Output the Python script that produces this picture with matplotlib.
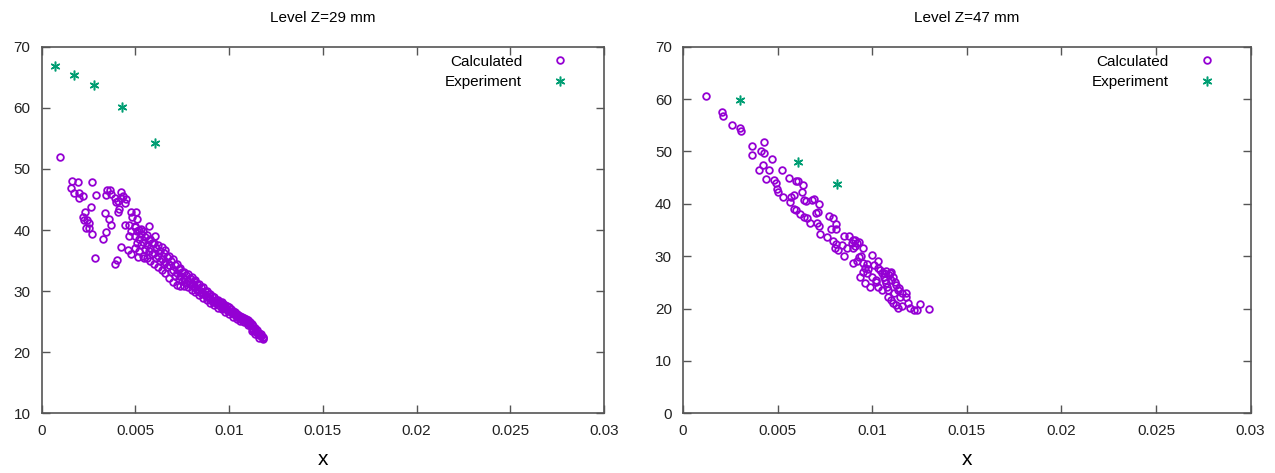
import numpy as np
import matplotlib
matplotlib.use("Agg")
import matplotlib.pyplot as plt
from matplotlib.ticker import FormatStrFormatter, FuncFormatter

plt.rcParams['font.family'] = ['Liberation Sans', 'DejaVu Sans']

# ---- Level Z=29 mm ----
exp29_x = [0.00072, 0.00174, 0.00277, 0.0043, 0.00603]
exp29_y = [66.8, 65.3, 63.8, 60.1, 54.2]

# scattered calculated points above the main band
calc29_x = [0.00097, 0.00163, 0.00195, 0.00157, 0.00174, 0.00199, 0.00222, 0.00201,
            0.00267, 0.00288, 0.00262, 0.00229, 0.0022, 0.00226, 0.00243, 0.0025,
            0.00237, 0.00252, 0.00267, 0.00286, 0.00336, 0.00358, 0.0037, 0.00341,
            0.00326, 0.00349, 0.00362, 0.00345, 0.00372, 0.00391, 0.00398, 0.0041,
            0.00408, 0.00423, 0.00436, 0.00451, 0.00446, 0.00425, 0.00406, 0.00421,
            0.00404, 0.00391, 0.00478, 0.00504, 0.00482, 0.00506, 0.00446, 0.00468,
            0.00499, 0.00531, 0.00573, 0.00607, 0.00468, 0.00476, 0.00459, 0.00476,
            0.00514, 0.00546]
calc29_y = [51.9, 48.1, 47.8, 46.9, 46.0, 46.0, 45.6, 45.3,
            47.8, 45.8, 43.8, 42.9, 42.1, 41.7, 41.7, 41.2,
            40.3, 40.3, 39.4, 35.5, 42.8, 41.8, 40.8, 39.6,
            38.5, 46.6, 46.6, 45.7, 45.9, 45.2, 44.6, 43.4,
            43.0, 46.3, 45.6, 45.0, 44.4, 45.3, 44.8, 37.2,
            35.1, 34.4, 42.9, 43.0, 42.1, 41.8, 40.8, 40.8,
            40.7, 40.2, 40.6, 39.1, 39.1, 39.9, 36.7, 36.0,
            35.6, 35.4]

# dense band: upper / middle / lower edge at each x
band29_x = [0.0050, 0.0052, 0.0054, 0.0056, 0.0058, 0.0060, 0.0062, 0.0064, 0.0066,
            0.0068, 0.0070, 0.0072, 0.0074, 0.0076, 0.0078, 0.0080, 0.0082, 0.0084,
            0.0086, 0.0088, 0.0090, 0.0092, 0.0094, 0.0096, 0.0098, 0.0100, 0.0102,
            0.0104, 0.0106, 0.0108, 0.0110, 0.0112, 0.0114, 0.0116, 0.0118]
band29_up = [40.5, 40.0, 39.8, 39.2, 38.5, 37.8, 37.5, 37.2, 36.8,
             35.8, 35.2, 34.5, 33.8, 33.2, 32.8, 32.3, 31.8, 31.2,
             30.6, 30.0, 29.6, 29.0, 28.6, 28.2, 27.8, 27.4, 26.8,
             26.3, 25.9, 25.6, 25.2, 24.6, 24.0, 23.2, 22.5]
band29_mid = [39.0, 38.5, 38.0, 37.5, 37.0, 36.3, 35.8, 35.3, 34.8,
              34.2, 33.5, 33.0, 32.4, 32.0, 31.6, 31.2, 30.7, 30.2,
              29.7, 29.2, 28.8, 28.3, 28.0, 27.6, 27.2, 26.8, 26.4,
              26.0, 25.6, 25.3, 24.8, 24.0, 23.4, 22.8, 22.3]
band29_lo = [37.0, 36.5, 35.8, 35.5, 35.0, 34.5, 34.0, 33.5, 33.0,
             32.2, 31.5, 31.0, 30.8, 30.8, 30.6, 30.2, 29.8, 29.3,
             28.9, 28.5, 28.1, 27.7, 27.3, 27.0, 26.6, 26.2, 25.8,
             25.5, 25.1, 24.9, 24.5, 23.4, 22.9, 22.4, 22.1]

# in-between rows of the band, offset half a step in x
band29_x2 = [0.0051, 0.0053, 0.0055, 0.0057, 0.0059, 0.0061, 0.0063, 0.0065, 0.0067,
             0.0069, 0.0071, 0.0073, 0.0075, 0.0077, 0.0079, 0.0081, 0.0083, 0.0085,
             0.0087, 0.0089, 0.0091, 0.0093, 0.0095, 0.0097, 0.0099, 0.0101, 0.0103,
             0.0105, 0.0107, 0.0109, 0.0111, 0.0113, 0.0115, 0.0117]
band29_q1 = [39.8, 39.3, 38.9, 38.3, 37.8, 37.0, 36.6, 36.2, 35.6,
             35.0, 34.3, 33.7, 33.1, 32.6, 32.2, 31.7, 31.2, 30.7,
             30.1, 29.6, 29.2, 28.6, 28.3, 27.9, 27.5, 27.1, 26.6,
             26.1, 25.7, 25.4, 24.9, 24.3, 23.7, 23.0]
band29_q3 = [37.9, 37.5, 36.9, 36.5, 36.0, 35.4, 34.9, 34.4, 33.9,
             33.2, 32.5, 32.0, 31.6, 31.4, 31.1, 30.7, 30.2, 29.7,
             29.3, 28.8, 28.4, 28.0, 27.6, 27.3, 26.9, 26.5, 26.1,
             25.7, 25.3, 25.1, 24.5, 23.7, 23.1, 22.6]

# ---- Level Z=47 mm ----
exp47_x = [0.00303, 0.00607, 0.00812]
exp47_y = [59.9, 47.9, 43.8]

calc47_x = [0.00119, 0.00206, 0.00212, 0.0026, 0.00303, 0.00308, 0.00362, 0.00362,
            0.00427, 0.00414, 0.00427, 0.0047, 0.00422, 0.00401, 0.00455, 0.0044,
            0.00524, 0.00483, 0.00494, 0.00561, 0.00596, 0.00607, 0.00633, 0.0063,
            0.00498, 0.00503, 0.00531, 0.0057, 0.00585, 0.00566, 0.00585, 0.00596,
            0.00617, 0.00639, 0.00639, 0.0065, 0.00656, 0.00671, 0.00682, 0.00693,
            0.00719, 0.00704, 0.00715, 0.00708, 0.00721, 0.00726, 0.00763, 0.00769,
            0.00795, 0.00808, 0.00784, 0.0081, 0.00791, 0.00806, 0.00802, 0.00819,
            0.00849, 0.00838, 0.00849, 0.00877, 0.00895, 0.0091, 0.00921, 0.00867,
            0.00899, 0.00953, 0.00899, 0.00921, 0.00932, 0.00953, 0.00938, 0.00964,
            0.00975, 0.0096, 0.00986, 0.01001, 0.01012, 0.01029, 0.0104, 0.0105,
            0.01061, 0.01072, 0.01094, 0.01111, 0.01098, 0.01018, 0.01029, 0.0105,
            0.01072, 0.01083, 0.01127, 0.01116, 0.01137, 0.01159, 0.01176, 0.01181,
            0.01148, 0.01111, 0.01127, 0.01137, 0.01159, 0.01191, 0.01198, 0.0122,
            0.01235, 0.0125, 0.013, 0.01083, 0.01098,
            0.0095, 0.0098, 0.0100, 0.0102, 0.0103, 0.0106, 0.0107, 0.0109, 0.0110,
            0.0108, 0.0112, 0.0114, 0.0097, 0.0094, 0.0091, 0.0090, 0.0093]
calc47_y = [60.5, 57.5, 56.8, 55.1, 54.5, 53.9, 51.0, 49.4,
            51.8, 50.1, 49.8, 48.5, 47.4, 46.5, 46.4, 44.8,
            46.4, 44.5, 44.0, 45.0, 44.3, 44.4, 43.6, 42.3,
            42.8, 42.2, 41.4, 41.3, 41.6, 40.4, 39.1, 38.8,
            38.0, 37.5, 40.7, 40.5, 37.2, 36.4, 40.7, 41.0,
            39.9, 38.3, 38.5, 36.3, 35.8, 34.3, 33.6, 37.7,
            37.2, 36.1, 35.2, 35.2, 32.9, 32.4, 31.5, 31.2,
            30.0, 32.2, 33.8, 33.8, 32.5, 33.0, 32.5, 31.6,
            31.6, 31.6, 28.7, 29.0, 29.9, 28.7, 26.1, 27.7,
            26.7, 24.8, 24.2, 30.2, 28.3, 29.0, 27.4, 26.7,
            26.1, 27.1, 26.7, 26.1, 25.4, 25.4, 24.2, 23.6,
            24.8, 23.6, 24.5, 23.0, 23.6, 23.0, 23.0, 22.3,
            22.3, 21.0, 20.6, 20.1, 20.4, 21.0, 20.1, 19.7,
            19.7, 20.9, 20.0, 22.3, 21.7,
            27.0, 27.5, 26.0, 25.0, 27.8, 26.8, 25.5, 26.5, 27.0,
            24.2, 25.0, 24.0, 28.5, 30.0, 32.0, 33.0, 32.8]

calc_color = '#9400d3'
exp_color = '#009e73'
star = (6, 2, 0)

fig = plt.figure(figsize=(12.75, 4.73), dpi=100)
ax1 = fig.add_axes([0.0327, 0.1262, 0.441, 0.775])
ax2 = fig.add_axes([0.5357, 0.1262, 0.4452, 0.775])


def style_axes(ax, ylim, title):
    ax.set_xlim(0, 0.03)
    ax.set_ylim(*ylim)
    ax.set_xticks(np.arange(0, 0.0301, 0.005))
    ax.set_yticks(np.arange(ylim[0], ylim[1] + 1, 10))
    ax.xaxis.set_major_formatter(FuncFormatter(lambda v, p: '%g' % round(v, 4)))
    ax.yaxis.set_major_formatter(FormatStrFormatter('%d'))
    ax.tick_params(direction='in', length=6, width=1, color='#555555',
                   top=True, right=True, labelsize=11, pad=8, labelcolor='#222222')
    for s in ax.spines.values():
        s.set_color('#555555')
        s.set_linewidth(1.2)
    ax.set_title(title, fontsize=11, pad=18)
    ax.set_xlabel('x', fontsize=15, labelpad=8)
    ax.legend(loc='upper right', bbox_to_anchor=(0.936, 0.978), frameon=False,
              markerfirst=False, handlelength=1.0, handletextpad=2.0,
              labelspacing=0.42, fontsize=11, borderpad=0, borderaxespad=0)


calc_style = dict(linestyle='none', marker='o', markersize=4.8, markerfacecolor='none',
                  markeredgecolor=calc_color, markeredgewidth=1.3, label='Calculated')
exp_style = dict(linestyle='none', marker=star, markersize=7, markeredgecolor=exp_color,
                 markeredgewidth=1.1, color=exp_color, label='Experiment')

ax1.plot(np.concatenate([calc29_x, band29_x, band29_x, band29_x, band29_x2, band29_x2]),
         np.concatenate([calc29_y, band29_up, band29_mid, band29_lo, band29_q1, band29_q3]),
         **calc_style)
ax1.plot(exp29_x, exp29_y, **exp_style)
style_axes(ax1, (10, 70), 'Level Z=29 mm')

ax2.plot(calc47_x, calc47_y, **calc_style)
ax2.plot(exp47_x, exp47_y, **exp_style)
style_axes(ax2, (0, 70), 'Level Z=47 mm')

fig.savefig('out.png', dpi=100)
